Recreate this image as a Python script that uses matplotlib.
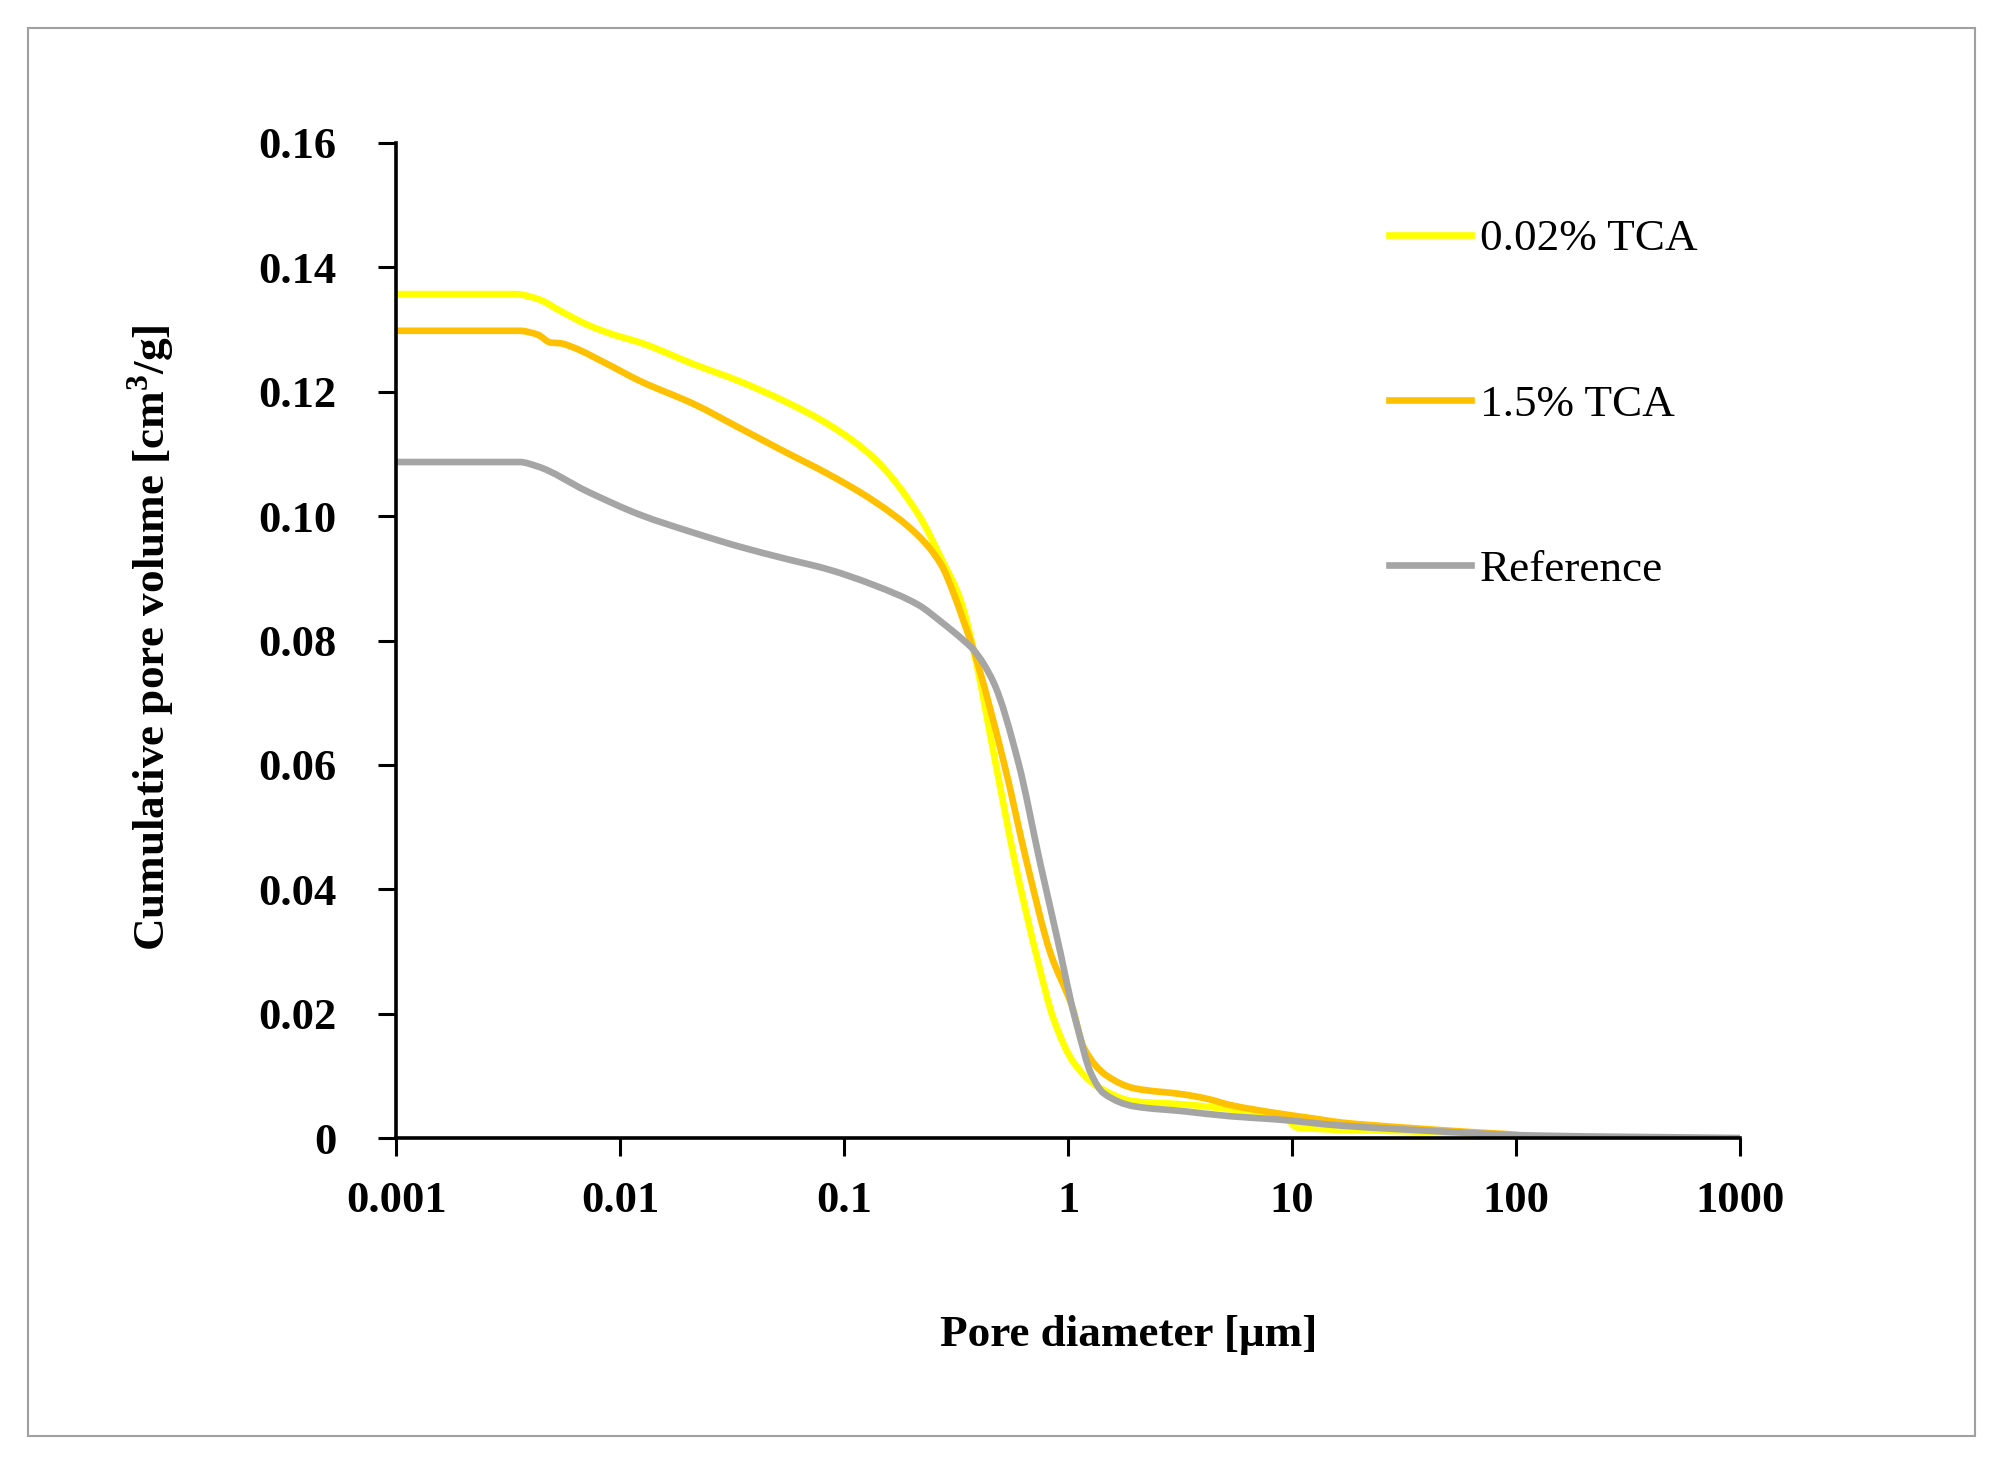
import matplotlib
matplotlib.use("Agg")
import numpy as np
import matplotlib.pyplot as plt
from matplotlib.patches import Rectangle, PathPatch
from matplotlib.path import Path
from matplotlib.lines import Line2D
from matplotlib.ticker import FixedLocator, FixedFormatter, NullLocator

plt.rcParams['font.family'] = ['Liberation Serif', 'DejaVu Serif']

# ---- data ----
series_names = ["0.02% TCA", "1.5% TCA", "Reference"]

x_tca002 = [0.001, 0.0034, 0.0043, 0.0054, 0.0071, 0.0093, 0.0123, 0.0214, 0.034, 0.054,
            0.0855, 0.136, 0.215, 0.271, 0.33, 0.378, 0.474, 0.58, 0.726, 0.863, 1.06,
            1.35, 1.97, 3.29, 5.3, 9.5, 10.5, 31, 100, 125]
y_tca002 = [0.1357, 0.1357, 0.1349, 0.1330, 0.1308, 0.1292, 0.1279, 0.1244, 0.1217, 0.1185,
            0.1147, 0.1093, 0.1002, 0.0932, 0.0866, 0.0785, 0.0603, 0.0442, 0.0290, 0.0190,
            0.0121, 0.0083, 0.0059, 0.0054, 0.0046, 0.0030, 0.0017, 0.0011, 0.0004, 0.0]

x_tca15 = [0.001, 0.00355, 0.00427, 0.0049, 0.0054, 0.0062, 0.0085, 0.0123, 0.0214, 0.034,
           0.054, 0.0855, 0.136, 0.215, 0.271, 0.308, 0.342, 0.378, 0.517, 0.655, 0.834,
           1.04, 1.175, 1.49, 1.97, 3.29, 4.18, 5.3, 8.5, 12.7, 16.5, 31, 60, 100, 125]
y_tca15 = [0.1298, 0.1298, 0.1292, 0.1279, 0.1278, 0.1271, 0.1247, 0.1217, 0.1180, 0.1142,
           0.1104, 0.1067, 0.1024, 0.0968, 0.0922, 0.0876, 0.0830, 0.0785, 0.0603, 0.0442,
           0.0297, 0.0212, 0.0145, 0.0100, 0.0080, 0.0070, 0.0063, 0.0053, 0.0040, 0.0031,
           0.0025, 0.0017, 0.0010, 0.0005, 0.0]

x_ref = [0.001, 0.00355, 0.00427, 0.0071, 0.0123, 0.0214, 0.034, 0.054, 0.0855, 0.136,
         0.215, 0.271, 0.342, 0.378, 0.464, 0.60, 0.75, 0.925, 1.04, 1.097, 1.26, 1.44,
         1.97, 3.29, 5.3, 8.5, 16.5, 31, 120, 1000]
y_ref = [0.1087, 0.1087, 0.1080, 0.1040, 0.1002, 0.0973, 0.0951, 0.0932, 0.0914, 0.0889,
         0.0857, 0.0830, 0.0800, 0.0785, 0.0733, 0.0603, 0.0442, 0.0297, 0.0212, 0.0180,
         0.0105, 0.0072, 0.0051, 0.0043, 0.0035, 0.0030, 0.0020, 0.0014, 0.0004, 0.0]

x_ticks = [0.001, 0.01, 0.1, 1, 10, 100, 1000]
x_tick_labels = ["0.001", "0.01", "0.1", "1", "10", "100", "1000"]
y_ticks = [0, 0.02, 0.04, 0.06, 0.08, 0.10, 0.12, 0.14, 0.16]
y_tick_labels = ["0", "0.02", "0.04", "0.06", "0.08", "0.10", "0.12", "0.14", "0.16"]

colors = ["#FFFF00", "#FFC000", "#A5A5A5"]


def smooth_path(xs, ys):
    """Smoothed-line path (monotone cubic Bezier segments in log-x space),
    like a spreadsheet 'smoothed line', built from the data points."""
    u = np.log10(np.asarray(xs, float))
    y = np.asarray(ys, float)
    h = np.diff(u)
    d = np.diff(y) / h
    n = len(u)
    m = np.zeros(n)
    m[0] = d[0]
    m[-1] = d[-1]
    for k in range(1, n - 1):
        if d[k - 1] * d[k] <= 0:
            m[k] = 0.0
        else:
            w1 = 2 * h[k] + h[k - 1]
            w2 = h[k] + 2 * h[k - 1]
            m[k] = (w1 + w2) / (w1 / d[k - 1] + w2 / d[k])
    verts = [(10 ** u[0], y[0])]
    codes = [Path.MOVETO]
    for k in range(n - 1):
        c1u = u[k] + h[k] / 3
        c1y = y[k] + m[k] * h[k] / 3
        c2u = u[k + 1] - h[k] / 3
        c2y = y[k + 1] - m[k + 1] * h[k] / 3
        verts += [(10 ** c1u, c1y), (10 ** c2u, c2y), (10 ** u[k + 1], y[k + 1])]
        codes += [Path.CURVE4] * 3
    return Path(verts, codes)


# ---- figure ----
fig = plt.figure(figsize=(19.91, 14.59), dpi=100)
fig.patches.append(Rectangle((0.014, 0.016), 0.978, 0.965, transform=fig.transFigure,
                             fill=False, edgecolor="#A0A0A0", linewidth=1.5))

ax = fig.add_axes([0.199, 0.220, 0.675, 0.682])
ax.set_xscale('log')
ax.set_xlim(0.001, 1000)
ax.set_ylim(0, 0.16)

lw = 4.8
handles = []
for xs, ys, c, n in [(x_tca002, y_tca002, colors[0], series_names[0]),
                     (x_tca15, y_tca15, colors[1], series_names[1]),
                     (x_ref, y_ref, colors[2], series_names[2])]:
    patch = PathPatch(smooth_path(xs, ys), facecolor='none', edgecolor=c, lw=lw,
                      capstyle='round', joinstyle='round', clip_on=True)
    ax.add_patch(patch)
    handles.append(Line2D([], [], color=c, lw=lw, label=n))

ax.xaxis.set_major_locator(FixedLocator(x_ticks))
ax.xaxis.set_major_formatter(FixedFormatter(x_tick_labels))
ax.xaxis.set_minor_locator(NullLocator())
ax.yaxis.set_major_locator(FixedLocator(y_ticks))
ax.yaxis.set_major_formatter(FixedFormatter(y_tick_labels))

for s in ['top', 'right']:
    ax.spines[s].set_visible(False)
for s in ['left', 'bottom']:
    ax.spines[s].set_linewidth(2.6)
    ax.spines[s].set_color('black')
    ax.spines[s].set_zorder(3)

ax.tick_params(axis='both', direction='out', length=13, width=2.2, labelsize=32)
ax.tick_params(axis='x', pad=18)
ax.tick_params(axis='y', pad=30)
for t in ax.get_xticklabels() + ax.get_yticklabels():
    t.set_fontweight('bold')

ax.set_xlabel("Pore diameter [μm]", fontsize=32.5, fontweight='bold')
ax.set_ylabel("Cumulative pore volume [cm$^{\\mathregular{3}}$/g]", fontsize=32.5, fontweight='bold')
ax.xaxis.set_label_coords(0.545, -0.178)
ax.yaxis.set_label_coords(-0.163, 0.503)

leg = ax.legend(handles=handles, loc='upper left', bbox_to_anchor=(0.7255, 0.942),
                frameon=False, fontsize=32.5, handlelength=1.8, handletextpad=0.2,
                labelspacing=2.76, borderaxespad=0)

fig.savefig("out.png", dpi=100)
